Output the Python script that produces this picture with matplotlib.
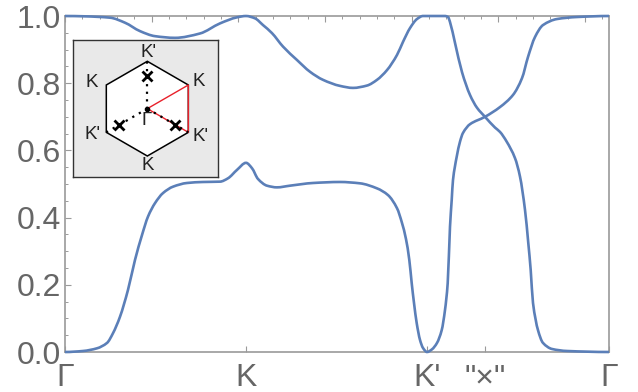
"""Band structure along Gamma-K-K'-x-Gamma with a Brillouin zone inset."""
import matplotlib

matplotlib.use("Agg")

import matplotlib.pyplot as plt
import numpy as np
from matplotlib.patches import PathPatch
from matplotlib.path import Path

plt.rcParams["font.family"] = ["Liberation Sans", "DejaVu Sans"]

# path coordinate along the cut, gamma at 0 and the last gamma at 544
TICK_POS = [0, 181, 362, 420, 544]
TICK_LABELS = ["Γ", "K", "K'", '"×"', "Γ"]

LOWER_X = [0, 18, 32, 42, 48, 55, 63, 70, 77, 83, 90, 98, 108, 122, 138, 155, 163, 172, 181,
           187, 193, 202, 212, 225, 248, 275, 295, 312, 323, 332, 337, 341, 344.3, 346.7, 349,
           351.7, 355, 358, 362, 367, 372, 376.7, 380, 382.7, 385, 386.7, 388, 391.7, 395,
           398, 405, 420, 435, 448, 457, 463, 470, 478, 492, 512, 544]
LOWER_Y = [0.0, 0.003, 0.011, 0.027, 0.056, 0.105, 0.185, 0.274, 0.348, 0.403, 0.443, 0.473,
           0.492, 0.503, 0.506, 0.507, 0.517, 0.542, 0.563, 0.547, 0.515, 0.495, 0.49, 0.495,
           0.503, 0.506, 0.502, 0.487, 0.467, 0.428, 0.384, 0.336, 0.274, 0.205, 0.146, 0.086,
           0.036, 0.012, 0.0, 0.008, 0.027, 0.065, 0.125, 0.205, 0.373, 0.452, 0.512, 0.581,
           0.626, 0.652, 0.678, 0.70, 0.729, 0.765, 0.815, 0.878, 0.9375, 0.973, 0.991, 0.997,
           1.0]

UPPER_X = [0, 20, 45, 60, 75, 90, 110, 135, 155, 172, 181, 190, 198, 207, 218, 232, 245, 258,
           275, 288, 302, 312, 322, 332, 338, 345, 352, 358, 370, 380, 383, 385, 390, 397, 405,
           412, 420, 430, 435, 441.7, 450, 455, 460, 463.3, 465.7, 468, 473, 478, 487, 502, 544]
UPPER_Y = [1.0, 0.999, 0.995, 0.98, 0.955, 0.94, 0.935, 0.948, 0.978, 0.996, 1.0, 0.993, 0.973,
           0.949, 0.909, 0.869, 0.834, 0.81, 0.792, 0.786, 0.793, 0.81, 0.839, 0.884, 0.923,
           0.964, 0.991, 1.0, 1.0, 1.0, 0.997, 0.982, 0.92, 0.833, 0.765, 0.727, 0.70, 0.668,
           0.655, 0.626, 0.577, 0.522, 0.423, 0.324, 0.244, 0.146, 0.065, 0.027, 0.009, 0.003,
           0.0]

BAND_COLOR = "#5b7fb8"
FRAME_COLOR = "#9a9a9a"
TEXT_COLOR = "#666666"


def smooth_band(x_values, y_values):
    # bezier segments through the read points, flat tangent at turning points so no overshoot
    x = np.asarray(x_values, dtype=float)
    y = np.asarray(y_values, dtype=float)
    secant = np.diff(y) / np.diff(x)
    slope = np.zeros_like(x)
    for i in range(1, len(x) - 1):
        if secant[i - 1] * secant[i] > 0:
            slope[i] = 2 * secant[i - 1] * secant[i] / (secant[i - 1] + secant[i])
    vertices = [(x[0], y[0])]
    codes = [Path.MOVETO]
    for i in range(len(x) - 1):
        step = (x[i + 1] - x[i]) / 3
        vertices += [(x[i] + step, y[i] + slope[i] * step),
                     (x[i + 1] - step, y[i + 1] - slope[i + 1] * step),
                     (x[i + 1], y[i + 1])]
        codes += [Path.CURVE4] * 3
    return Path(vertices, codes)


fig = plt.figure(figsize=(6.38, 3.92), dpi=100)
ax = fig.add_axes([65 / 638, 1 - 352 / 392, 544 / 638, 336 / 392])

for band_x, band_y in ((LOWER_X, LOWER_Y), (UPPER_X, UPPER_Y)):
    ax.add_patch(PathPatch(smooth_band(band_x, band_y), fill=False, edgecolor=BAND_COLOR,
                           linewidth=1.9, clip_on=False, zorder=3))

ax.set_xlim(0, 544)
ax.set_ylim(0, 1)
ax.set_xticks(TICK_POS)
ax.set_xticklabels(TICK_LABELS)
ax.set_yticks(np.arange(0, 1.01, 0.2))
ax.set_yticks(np.arange(0, 1.01, 0.05), minor=True)
ax.yaxis.set_major_formatter(lambda v, _: f"{v:.1f}")
ax.tick_params(axis="both", which="major", direction="in", length=4.5, width=0.8,
               color=FRAME_COLOR, labelsize=23, labelcolor=TEXT_COLOR)
ax.tick_params(axis="x", which="major", pad=8)
ax.tick_params(axis="y", which="major", pad=3)
ax.tick_params(axis="y", which="minor", direction="in", length=2.5, width=0.7, color=FRAME_COLOR)
for spine in ax.spines.values():
    spine.set_color(FRAME_COLOR)
    spine.set_linewidth(1.2)

# top edge has its own evenly spaced ticks
top = ax.secondary_xaxis("top")
top.set_xticks(np.arange(0, 544, 86.67))
top.set_xticks(np.arange(0, 544, 17.33), minor=True)
top.set_xticklabels([])
top.tick_params(axis="x", which="major", direction="in", length=4.5, width=0.8, color=FRAME_COLOR)
top.tick_params(axis="x", which="minor", direction="in", length=2.5, width=0.7, color=FRAME_COLOR)
top.spines["top"].set_visible(False)

# Brillouin zone inset
inset = fig.add_axes([73.3 / 638, 1 - 176.7 / 392, 144.4 / 638, 136.7 / 392])
inset.set_xlim(-1.563, 1.486)
inset.set_ylim(-1.437, 1.45)
inset.set_facecolor("#e9e9e9")
inset.set_xticks([])
inset.set_yticks([])
for spine in inset.spines.values():
    spine.set_color("#333333")
    spine.set_linewidth(1.0)

angles = np.radians([90, 30, -30, -90, -150, 150, 90])
hex_x, hex_y = np.cos(angles), np.sin(angles)
inset.fill(hex_x, hex_y, facecolor="white", edgecolor="black", linewidth=1.1)

k_pt = (np.cos(np.radians(30)), np.sin(np.radians(30)))
kp_pt = (np.cos(np.radians(-30)), np.sin(np.radians(-30)))
inset.plot([0, k_pt[0], kp_pt[0], 0], [0, k_pt[1], kp_pt[1], 0], color="#e8202a", linewidth=1.0)

for deg in (90, -30, 210):
    c, s = np.cos(np.radians(deg)), np.sin(np.radians(deg))
    inset.plot([0, c], [0, s], color="black", linewidth=1.6, linestyle=(0, (1, 2.4)))
    inset.plot(0.68 * c, 0.68 * s, marker="x", color="black", markersize=7, markeredgewidth=2)
inset.plot(0, 0, marker="o", color="black", markersize=3)

inset_labels = [(0.02, 1.18, "K'"), (1.08, 0.57, "K"), (1.13, -0.59, "K'"),
                (0.0, -1.19, "K"), (-1.16, -0.55, "K'"), (-1.17, 0.55, "K"), (-0.01, -0.26, "Γ")]
for lx, ly, text in inset_labels:
    inset.text(lx, ly, text, fontsize=13.5, color="#222222", ha="center", va="center")

fig.savefig("out.png", dpi=100)
